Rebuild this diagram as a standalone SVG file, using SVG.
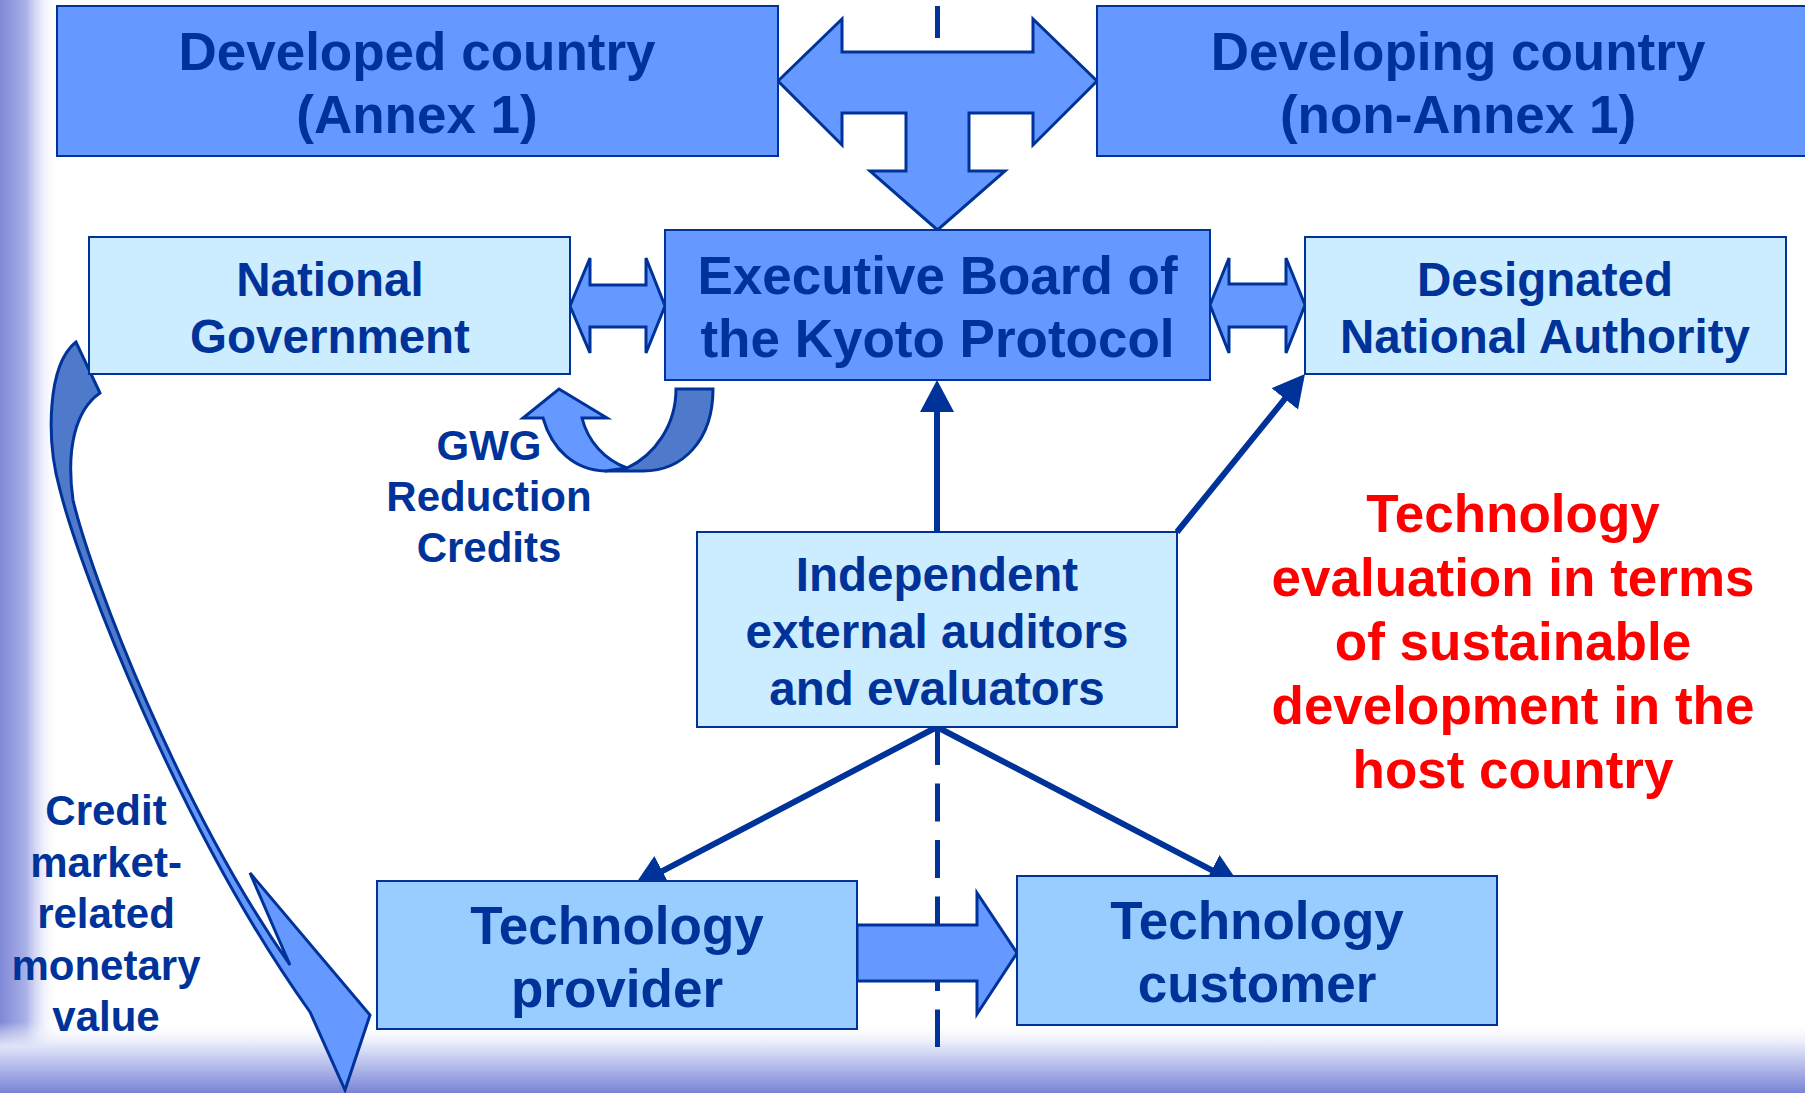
<svg xmlns="http://www.w3.org/2000/svg" width="1805" height="1093" viewBox="0 0 1805 1093">
<defs>
<style>
.t{font-family:"Liberation Sans",Arial,sans-serif;font-weight:bold;fill:#003399;text-anchor:middle}
.red{font-family:"Liberation Sans",Arial,sans-serif;font-weight:bold;fill:#FF0000;text-anchor:middle;font-size:53px}
.b53{font-size:53px}.b47{font-size:47.5px}.b42{font-size:42px}
.dark{fill:#6699FF;stroke:#003399;stroke-width:2}
.light{fill:#CCECFF;stroke:#003399;stroke-width:2}
.mid{fill:#99CCFF;stroke:#003399;stroke-width:2}
.blk{fill:#6699FF;stroke:#003399;stroke-width:3;stroke-linejoin:miter}
.con{stroke:#003399;stroke-width:6;fill:none}
.dash{stroke:#003399;stroke-width:5;fill:none}
</style>
<linearGradient id="gl" x1="0" y1="0" x2="1" y2="0">
<stop offset="0" stop-color="#7f88d6"/>
<stop offset="0.45" stop-color="#a9b1e8"/>
<stop offset="1" stop-color="#ffffff" stop-opacity="0"/>
</linearGradient>
<linearGradient id="gb" x1="0" y1="0" x2="0" y2="1">
<stop offset="0" stop-color="#ffffff" stop-opacity="0"/>
<stop offset="0.35" stop-color="#dfe3f8"/>
<stop offset="1" stop-color="#7984d6"/>
</linearGradient>
<linearGradient id="gc" gradientUnits="userSpaceOnUse" x1="0" y1="340" x2="0" y2="1090">
<stop offset="0" stop-color="#4F7ACC"/>
<stop offset="0.45" stop-color="#4F7ACC"/>
<stop offset="0.62" stop-color="#6699FF"/>
<stop offset="1" stop-color="#6699FF"/>
</linearGradient>
<marker id="ah" markerUnits="userSpaceOnUse" markerWidth="34" markerHeight="36" refX="26" refY="17" orient="auto" viewBox="0 0 34 36">
<path d="M0,0 L32,17 L0,34 Z" fill="#003399"/>
</marker>
</defs>
<rect x="0" y="0" width="1805" height="1093" fill="#ffffff"/>
<rect x="0" y="0" width="58" height="1093" fill="url(#gl)"/>
<rect x="0" y="1022" width="1805" height="71" fill="url(#gb)"/>

<g id="connectors">
<line class="dash" x1="937.5" y1="6" x2="937.5" y2="38"/>
<line class="dash" x1="937.5" y1="727" x2="937.5" y2="1047" stroke-dasharray="38 18.5"/>
<line class="con" x1="937" y1="532" x2="937" y2="386" marker-end="url(#ah)"/>
<line class="con" x1="1177" y1="532" x2="1301.2" y2="378.7" marker-end="url(#ah)"/>
<line class="con" x1="937" y1="727" x2="639.3" y2="883.2" marker-end="url(#ah)"/>
<line class="con" x1="937" y1="727" x2="1234.7" y2="882.2" marker-end="url(#ah)"/>
<polygon class="blk" points="778,81 842,19 842,52 1033,52 1033,19 1097,81 1033,145 1033,113 969,113 969,171 1005,171 937.5,230 870,171 906,171 906,113 842,113 842,145"/>
<polygon class="blk" points="570,306 590,258 590,285 646,285 646,258 665,306 646,353 646,327 590,327 590,353"/>
<polygon class="blk" points="1210,305 1229,258 1229,284 1286,284 1286,258 1305,305 1286,353 1286,327 1229,327 1229,353"/>
<polygon class="blk" points="857,925 977,925 977,893 1017,953 977,1014 977,981 857,981"/>
<path d="M676,389 L713,389 C713,440 683,471 643,471 L605,471 L627,468 C655,455 676,425 676,389 Z" fill="#4F7ACC" stroke="#003399" stroke-width="3"/>
<path d="M543,418 C552,450 575,470 605,471 L627,468 C605,460 588,442 582,418 L607,418 L559,389 L523,418 Z" fill="#6699FF" stroke="#003399" stroke-width="3" stroke-linejoin="miter"/>
<path d="M76,342 C47,365 46,440 60,490 C80,570 180,830 310,1012 L345,1090 L370,1015 L250,873 L290,965 C180,808 92,580 73,500 C66,450 75,410 100,393 Z" fill="url(#gc)" stroke="#003399" stroke-width="3"/>
</g>

<g id="developed">
<rect class="dark" x="57" y="6" width="721" height="150"/>
<text class="t b53" x="417" y="70">Developed country</text>
<text class="t b53" x="417" y="133">(Annex 1)</text>
</g>
<g id="developing">
<rect class="dark" x="1097" y="6" width="725" height="150"/>
<text class="t b53" x="1458" y="70">Developing country</text>
<text class="t b53" x="1458" y="133">(non-Annex 1)</text>
</g>
<g id="national-government">
<rect class="light" x="89" y="237" width="481" height="137"/>
<text class="t b47" x="330" y="296">National</text>
<text class="t b47" x="330" y="353">Government</text>
</g>
<g id="executive-board">
<rect class="dark" x="665" y="230" width="545" height="150"/>
<text class="t b53" x="937.5" y="294">Executive Board of</text>
<text class="t b53" x="937.5" y="357">the Kyoto Protocol</text>
</g>
<g id="dna">
<rect class="light" x="1305" y="237" width="481" height="137"/>
<text class="t b47" x="1545" y="296">Designated</text>
<text class="t b47" x="1545" y="353">National Authority</text>
</g>
<g id="auditors">
<rect class="light" x="697" y="532" width="480" height="195"/>
<text class="t b47" x="937" y="591">Independent</text>
<text class="t b47" x="937" y="648">external auditors</text>
<text class="t b47" x="937" y="705">and evaluators</text>
</g>
<g id="provider">
<rect class="mid" x="377" y="881" width="480" height="148"/>
<text class="t b53" x="617" y="944">Technology</text>
<text class="t b53" x="617" y="1007">provider</text>
</g>
<g id="customer">
<rect class="mid" x="1017" y="876" width="480" height="149"/>
<text class="t b53" x="1257" y="939">Technology</text>
<text class="t b53" x="1257" y="1002">customer</text>
</g>
<g id="gwg-label">
<text class="t b42" x="489" y="460">GWG</text>
<text class="t b42" x="489" y="511">Reduction</text>
<text class="t b42" x="489" y="562">Credits</text>
</g>
<g id="credit-label">
<text class="t b42" x="106" y="825">Credit</text>
<text class="t b42" x="106" y="877">market-</text>
<text class="t b42" x="106" y="928">related</text>
<text class="t b42" x="106" y="980">monetary</text>
<text class="t b42" x="106" y="1031">value</text>
</g>
<g id="evaluation-note">
<text class="red" x="1513" y="532">Technology</text>
<text class="red" x="1513" y="596">evaluation in terms</text>
<text class="red" x="1513" y="660">of sustainable</text>
<text class="red" x="1513" y="724">development in the</text>
<text class="red" x="1513" y="788">host country</text>
</g>
</svg>
